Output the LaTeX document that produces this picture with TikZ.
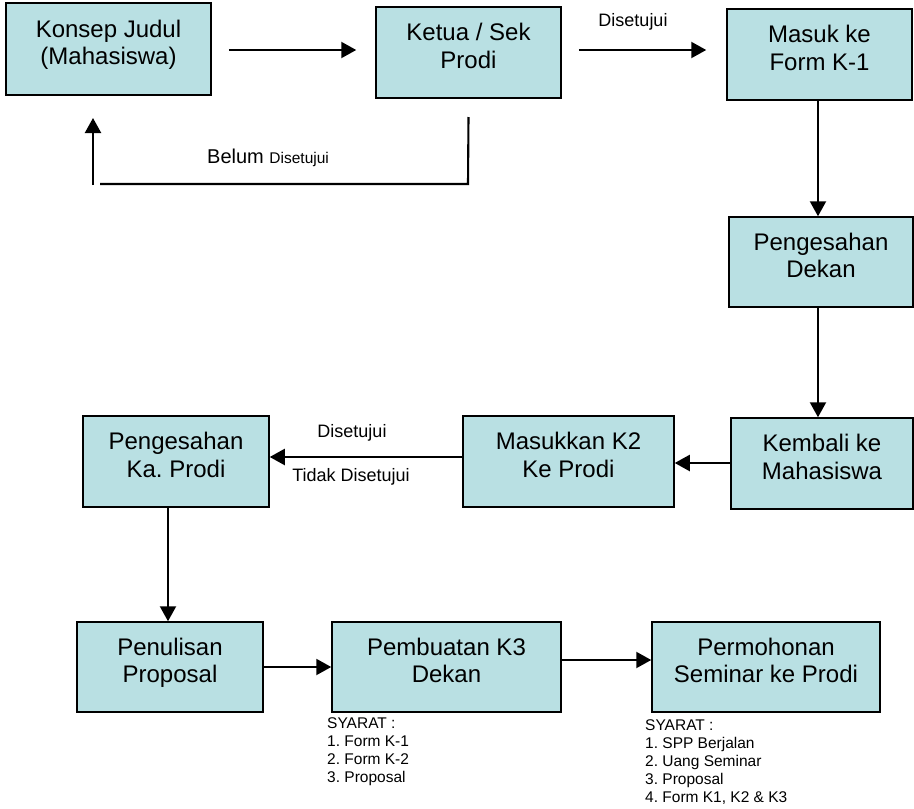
\documentclass[tikz,border=0pt]{standalone}
\usepackage{fontspec}
\setmainfont{Liberation Sans}
\usetikzlibrary{arrows.meta}
\definecolor{boxfill}{RGB}{185,224,227}
\newcommand{\fst}{\rule{0pt}{19pt}}
\newcommand{\lst}{\rule[-15pt]{0pt}{0pt}}
\frenchspacing
\tikzset{
  stepbox/.style={draw=black, line width=1.5pt, fill=boxfill, rectangle, align=center,
    inner sep=0pt, font=\frenchspacing\fontsize{24}{27.5}\selectfont},
  arr/.style={line width=2.1pt, -{Triangle[length=15pt,width=16pt]}},
  plain/.style={line width=2.1pt},
  lbl/.style={font=\fontsize{18}{20}\selectfont, inner sep=0pt},
  syarat/.style={font=\frenchspacing\fontsize{15.5}{18}\selectfont, align=left, anchor=north west, inner sep=0pt}
}
\begin{document}
\begin{tikzpicture}[x=1pt,y=-1pt]
\useasboundingbox[fill=white] (0,0) rectangle (914,809);

\node[stepbox, minimum width=205pt, minimum height=92pt] (konsep) at (108.5,49) {\fst Konsep Judul\\(Mahasiswa)\lst};
\node[stepbox, minimum width=185pt, minimum height=91pt] (ketua) at (468.5,52.5) {\fst Ketua / Sek\\Prodi\lst};
\node[stepbox, minimum width=185pt, minimum height=91pt] (masuk) at (819.5,54.5) {\fst Masuk ke\\Form K-1\lst};
\node[stepbox, minimum width=184pt, minimum height=90pt] (dekan) at (821,262) {\fst Pengesahan\\Dekan\lst};
\node[stepbox, minimum width=182pt, minimum height=91pt] (kembali) at (822,463.5) {\fst Kembali ke\\Mahasiswa\lst};
\node[stepbox, minimum width=211pt, minimum height=91pt] (masukk2) at (568.5,461.5) {\fst Masukkan K2\\Ke Prodi\lst};
\node[stepbox, minimum width=186pt, minimum height=91pt] (kaprodi) at (176,461.5) {\fst Pengesahan\\Ka. Prodi\lst};
\node[stepbox, minimum width=186pt, minimum height=90pt] (penulisan) at (170,667) {\fst Penulisan\\Proposal\lst};
\node[stepbox, minimum width=229pt, minimum height=90pt] (pembuatan) at (446.5,667) {\fst Pembuatan K3\\Dekan\lst};
\node[stepbox, minimum width=228pt, minimum height=90pt] (permohonan) at (766,667) {\fst Permohonan\\Seminar ke Prodi\lst};

% top row
\draw[arr, shorten <=17pt, shorten >=19pt] (konsep.east |- 0,50) -- (ketua.west |- 0,50);
\draw[arr, shorten <=17pt, shorten >=20pt] (ketua.east |- 0,50) -- (masuk.west |- 0,50);
\node[lbl] (lblsetuju1) at (633,22) {Disetujui};

% feedback loop
\coordinate (fbcorner) at (468,184);
\coordinate (fbend) at (100,184);
\coordinate (fbup) at (93,185);
\draw[plain] (ketua.south |- 0,117) -- (fbcorner) -- (fbend);
\draw[arr] (fbup) -- (fbup |- 0,118);
\node[inner sep=0pt, anchor=base west] (lblbelum) at (207,163) {\fontsize{20}{22}\selectfont Belum \fontsize{15.5}{17}\selectfont Disetujui};

% right column
\draw[arr] (masuk.south -| 818,0) -- (dekan.north -| 818,0);
\draw[arr] (dekan.south -| 818,0) -- (kembali.north -| 818,0);
\draw[arr] (kembali.west |- 0,463) -- (masukk2.east |- 0,463);
\draw[arr] (masukk2.west |- 0,457) -- (kaprodi.east |- 0,457);
\node[lbl] (lblsetuju2) at (352,433) {Disetujui};
\node[lbl] (lbltidak) at (351,477) {Tidak Disetujui};

% bottom row
\draw[arr] (kaprodi.south -| 168,0) -- (penulisan.north -| 168,0);
\draw[arr] (penulisan.east |- 0,667) -- (pembuatan.west |- 0,667);
\draw[arr] (pembuatan.east |- 0,660) -- (permohonan.west |- 0,660);

\node[syarat] (syarat1) at (327,717) {SYARAT :\\1. Form K-1\\2. Form K-2\\3. Proposal};
\node[syarat] (syarat2) at (645,719) {SYARAT :\\1. SPP Berjalan\\2. Uang Seminar\\3. Proposal\\4. Form K1, K2 \& K3};
\end{tikzpicture}
\end{document}
